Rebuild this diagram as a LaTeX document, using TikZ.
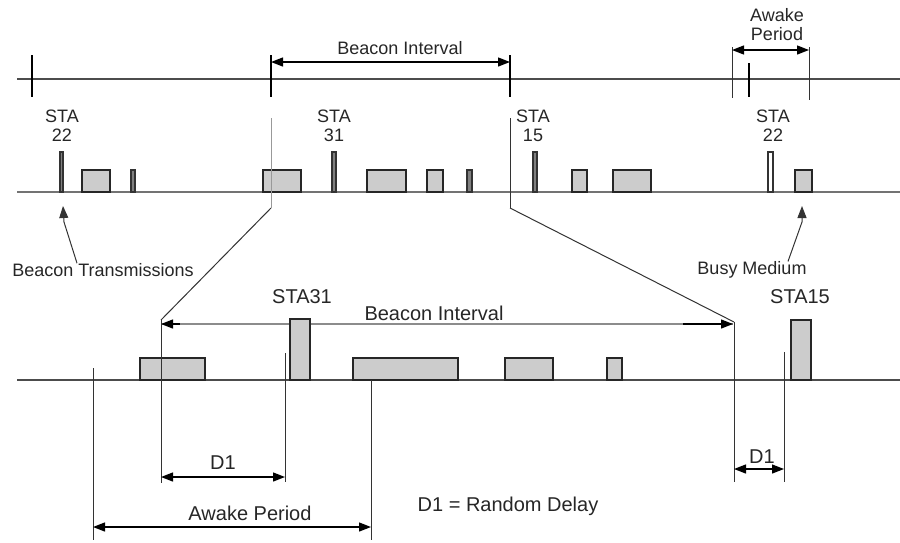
\documentclass[tikz,border=0pt]{standalone}
\usepackage{fontspec}
\setmainfont{Liberation Sans}
\usetikzlibrary{arrows.meta}
\tikzset{
	pkt/.style={draw=black!85, fill=black!20, line width=1.3pt},
	thinpkt/.style={draw=black!80, fill=black!50, line width=1.2pt},
	axis/.style={line width=1.6pt, color=black!70},
	tick/.style={line width=2.6pt},
	guide/.style={line width=1pt, color=black!80},
	dim/.style={line width=1.3pt, {Triangle[length=12pt,width=9pt]}-{Triangle[length=12pt,width=9pt]}},
	pointer/.style={line width=1pt, color=black!80, -{Triangle[length=12pt,width=9pt]}},
	lbl/.style={font=\fontsize{18}{19}\selectfont, align=center, inner sep=0pt, text=black!85},
	biglbl/.style={font=\fontsize{20}{22}\selectfont, inner sep=0pt, text=black!85}
}

\begin{document}
\begin{tikzpicture}[x=1pt, y=-1pt]
		%%%%% START %%%%%
		\useasboundingbox (0,0) rectangle (900,542);
		
		% top time line with beacon ticks
		\draw[axis] (17,79) -- (900,79);
		\draw[tick] (32,55) -- (32,97);
		\draw[tick] (271,55) -- (271,97);
		\draw[tick] (510,55) -- (510,97);
		\draw[tick] (749,63) -- (749,97);
		
		\coordinate (topA) at (271,62);
		\coordinate (topB) at (510,62);
		\draw[dim] (topA) -- (topB);
		\node[lbl] (topint) at (400,48) {Beacon Interval};
		
		\draw[guide] (732,47) -- (732,98);
		\draw[guide] (809,47) -- (809,100);
		\coordinate (awA) at (732,50);
		\coordinate (awB) at (809,50);
		\draw[dim] (awA) -- (awB);
		\node[lbl] (topawake) at (777,25) {Awake\\Period};
		
		% middle time line
		\draw[axis, line width=1.3pt, color=black!55] (17,192) -- (900,192);
		\foreach \a/\b/\t in {82/110/170, 263/301/170, 367/406/170, 427/443/170,
			572/587/170, 613/651/170, 795/812/170}
			\draw[pkt] (\a,192) rectangle (\b,\t);
		\foreach \a/\b/\t in {60/63/152, 131/135/170, 332/336/152, 467/472/170, 533/537/152}
			\draw[thinpkt] (\a,192) rectangle (\b,\t);
		\draw[line width=1.2pt, fill=white, draw=black!80] (768,192) rectangle (773,152);
		
		\node[lbl] (sta22a) at (62,126) {STA\\22};
		\node[lbl] (sta31a) at (334,126) {STA\\31};
		\node[lbl] (sta15a) at (533,126) {STA\\15};
		\node[lbl] (sta22b) at (773,126) {STA\\22};
		
		\draw[line width=1pt, color=black!40] (271,118) -- (271,208);
		\draw[guide] (510,118) -- (510,208);
		
		\node[lbl] (beacontx) at (103,270) {Beacon Transmissions};
		\node[lbl] (busy) at (752,270) {Busy Medium};
		\draw[pointer] ([xshift=-26pt]beacontx.north) -- (64,222) -- (63,206);
		\draw[pointer] ([xshift=36pt]busy.north) -- (802,222) -- (802,206);
		
		% zoom lines
		\coordinate (zoomL) at (161,320);
		\coordinate (zoomR) at (734,322);
		\draw[guide] (271,208) -- (zoomL);
		\draw[guide] (510,208) -- (zoomR);
		
		% bottom time line
		\draw[axis] (17,380) -- (900,380);
		\draw[line width=1.3pt, color=black!45] (161,324) -- (733,324);
		\draw[line width=1.3pt, {Triangle[length=12pt,width=9pt]}-] (161,324) -- (180,324);
		\draw[line width=1.3pt, -{Triangle[length=12pt,width=9pt]}] (683,324) -- (733,324);
		\node[biglbl] (botint) at (434,313) {Beacon Interval};
		\foreach \a/\b/\t in {140/205/358, 290/310/319, 353/458/358,
			505/553/358, 607/622/358, 791/811/320}
			\draw[pkt] (\a,380) rectangle (\b,\t);
		\node[biglbl] (sta31b) at (302,297) {STA31};
		\node[biglbl] (sta15b) at (800,297) {STA15};
		
		\draw[guide] (zoomL) -- (161,483);
		\draw[guide] (93,368) -- (93,540);
		\draw[guide] (285,353) -- (285,482);
		\draw[guide] (371,380) -- (371,540);
		\draw[guide] (zoomR) -- (734,482);
		\draw[guide] (784,352) -- (784,482);
		
		\draw[dim] (161,477) -- (285,477);
		\node[biglbl] (d1a) at (223,463) {D1};
		\draw[dim] (734,469) -- (784,469);
		\node[biglbl] (d1b) at (762,457) {D1};
		\draw[dim] (93,527) -- (371,527);
		\node[biglbl] (awake) at (250,513) {Awake Period};
		\node[biglbl] (legend) at (508,506) {D1 = Random Delay};
		
		%%%%% END %%%%%
\end{tikzpicture}
\end{document}
